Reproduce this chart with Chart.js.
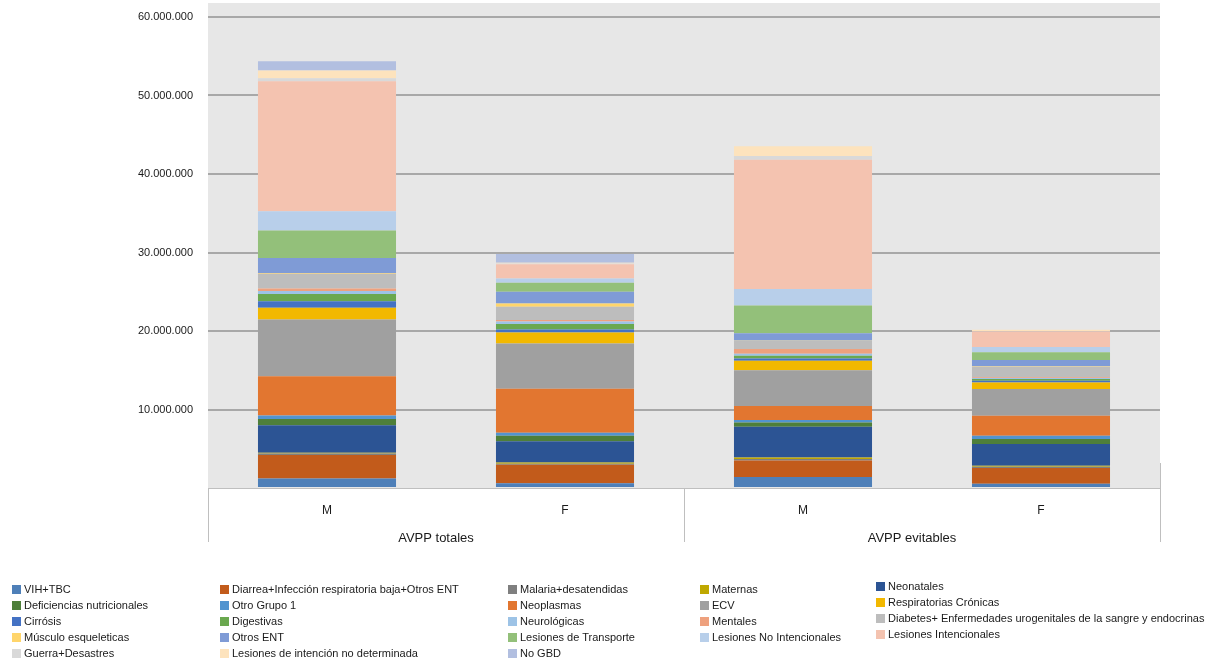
<!DOCTYPE html>
<html>
<head>
<meta charset="utf-8">
<script src="https://cdn.jsdelivr.net/npm/chart.js@4/dist/chart.umd.min.js"></script>
<style>
  html, body { margin:0; padding:0; background:#fff; }
  #wrap { position:relative; width:1210px; height:662px; overflow:hidden; }
  #leyenda {
    position:absolute; left:12px; top:581px;
    display:grid; grid-template-columns:208px 288px 192px 176px auto;
    grid-auto-rows:16px;
    font-family:'Liberation Sans', Arial, sans-serif; font-size:11px; color:#1a1a1a;
  }
  #leyenda .it { display:flex; align-items:center; white-space:nowrap; }
  #leyenda .it i { display:inline-block; width:9px; height:9px; margin-right:3px; flex:none; }
  #leyenda .c5 { position:relative; top:-3px; }
</style>
</head>
<body>
<div id="wrap">
  <canvas id="grafico" width="1210" height="662"></canvas>
  <div id="leyenda"></div>
</div>
<script>
// --- Datos (millones de AVPP) ---
const categorias = ['M', 'F', 'M', 'F'];
const grupos = ['AVPP totales', 'AVPP evitables'];
const yTicks = [0, 10000000, 20000000, 30000000, 40000000, 50000000, 60000000];
const UNIDAD = 1000000;

const causas = [
  'VIH+TBC', 'Diarrea+Infección respiratoria baja+Otros ENT', 'Malaria+desatendidas', 'Maternas', 'Neonatales',
  'Deficiencias nutricionales', 'Otro Grupo 1', 'Neoplasmas', 'ECV', 'Respiratorias Crónicas',
  'Cirrósis', 'Digestivas', 'Neurológicas', 'Mentales', 'Diabetes+ Enfermedades urogenitales de la sangre y endocrinas',
  'Músculo esqueleticas', 'Otros ENT', 'Lesiones de Transporte', 'Lesiones No Intencionales', 'Lesiones Intencionales',
  'Guerra+Desastres', 'Lesiones de intención no determinada', 'No GBD'
];

// un valor por causa, en el mismo orden
const mTotales   = [1.2, 3.0, 0.2, 0.1, 3.5, 0.8, 0.45, 5.0, 7.2, 1.5, 0.85, 0.9, 0.4, 0.3, 1.9, 0.1, 1.9, 3.5, 2.45, 16.55, 0.4, 1.0, 1.15];
const fTotales   = [0.6, 2.35, 0.15, 0.15, 2.7, 0.7, 0.4, 5.6, 5.75, 1.4, 0.4, 0.7, 0.3, 0.2, 1.7, 0.4, 1.5, 1.15, 0.55, 1.8, 0.1, 0.1, 1.1];
const mEvitables = [1.4, 2.1, 0.2, 0.2, 3.9, 0.55, 0.3, 1.8, 4.55, 1.2, 0.3, 0.35, 0.25, 0.6, 1.05, 0.05, 0.9, 3.55, 2.1, 16.45, 0.5, 1.25, 0];
const fEvitables = [0.55, 2.0, 0.15, 0.15, 2.75, 0.65, 0.4, 2.55, 3.4, 0.85, 0.2, 0.25, 0.1, 0.1, 1.35, 0.05, 0.8, 1.0, 0.65, 2.0, 0.05, 0.15, 0];

// --- Colores por causa ---
const colores = [
  '#4e7fb8', '#c25b1b', '#7f7f7f', '#bfa800', '#2c5494',
  '#4e7f3a', '#5294cf', '#e27630', '#a0a0a0', '#f2b800',
  '#4472c4', '#6aa84f', '#9dc3e6', '#eea17e', '#bdbdbd',
  '#ffd56b', '#7f9bd6', '#93c07a', '#b8cfea', '#f4c3b0',
  '#d9d9d9', '#fde3bd', '#b2bfe0'
];

const columnas = [mTotales, fTotales, mEvitables, fEvitables];
const datasets = causas.map((nombre, i) => ({
  label: nombre,
  data: columnas.map(c => c[i] * UNIDAD),
  backgroundColor: colores[i],
  borderWidth: 0,
  barPercentage: 0.58,
  categoryPercentage: 1.0
}));

const formato = v => String(v).replace(/\B(?=(\d{3})+(?!\d))/g, '.');

// fondo gris del área de trazado
const fondo = {
  id: 'fondo',
  beforeDraw(chart){
    const { ctx, chartArea: a } = chart;
    ctx.save();
    ctx.fillStyle = '#e7e7e7';
    ctx.fillRect(a.left, 3, a.right - a.left, a.bottom - 3);
    ctx.restore();
  }
};

// eje de categorías con grupos (M/F bajo AVPP totales / evitables)
const ejeGrupos = {
  id: 'ejeGrupos',
  afterDraw(chart){
    const { ctx, chartArea: a, scales } = chart;
    const x = scales.x;
    ctx.save();
    ctx.strokeStyle = '#bfbfbf';
    ctx.lineWidth = 1;
    ctx.beginPath();
    ctx.moveTo(a.left, a.bottom + 0.5); ctx.lineTo(a.right, a.bottom + 0.5);
    const medio = (x.getPixelForValue(1) + x.getPixelForValue(2)) / 2;
    [[a.left, a.bottom], [medio, a.bottom], [a.right, a.bottom - 25]].forEach(([px, y0]) => {
      const xx = Math.round(px) + 0.5;
      ctx.moveTo(xx, y0); ctx.lineTo(xx, a.bottom + 54);
    });
    ctx.stroke();
    ctx.fillStyle = '#1a1a1a';
    ctx.font = '13px "Liberation Sans", Arial, sans-serif';
    ctx.textAlign = 'center';
    ctx.textBaseline = 'middle';
    grupos.forEach((g, k) => {
      const cx = (x.getPixelForValue(2 * k) + x.getPixelForValue(2 * k + 1)) / 2 - 10;
      ctx.fillText(g, cx, a.bottom + 50);
    });
    ctx.restore();
  }
};

new Chart(document.getElementById('grafico'), {
  type: 'bar',
  data: { labels: categorias, datasets },
  options: {
    responsive: false,
    animation: false,
    layout: { padding: { left: 0, right: 50, top: 0, bottom: 114 } },
    plugins: { legend: { display: false }, tooltip: { enabled: false } },
    scales: {
      x: {
        stacked: true,
        grid: { display: false },
        border: { display: false },
        ticks: { color: '#1a1a1a', padding: 7, font: { family: 'Liberation Sans', size: 12 } },
        afterFit: s => { s.height = 60; }
      },
      y: {
        stacked: true,
        min: 0, max: 60000000,
        afterBuildTicks: s => { s.ticks = yTicks.map(v => ({ value: v })); },
        grid: {
          drawTicks: false,
          color: c => c.tick && c.tick.value === 0 ? 'rgba(0,0,0,0)' : '#a8a8a8',
          lineWidth: 2
        },
        border: { display: false },
        ticks: {
          padding: 15, color: '#1a1a1a',
          font: { family: 'Liberation Sans', size: 11 },
          callback: v => v === 0 ? '' : formato(v)
        },
        afterFit: s => { s.width = 208; s.paddingTop = 17; }
      }
    }
  },
  plugins: [fondo, ejeGrupos]
});

// --- Leyenda en 5 columnas (orden por filas, como el original) ---
const ley = document.getElementById('leyenda');
causas.forEach((nombre, i) => {
  const d = document.createElement('div');
  d.className = 'it' + (i % 5 === 4 ? ' c5' : '');
  d.innerHTML = `<i style="background:${colores[i]}"></i><span>${nombre}</span>`;
  ley.appendChild(d);
});
</script>
</body>
</html>
